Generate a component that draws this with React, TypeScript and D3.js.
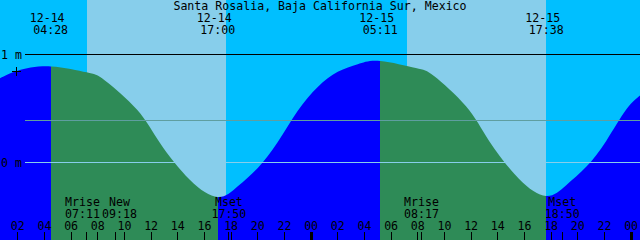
import React from "react";
import * as d3 from "d3";

const TITLE = "Santa Rosalia, Baja California Sur, Mexico";

// window of the graph
const WINDOW_START = "12-14 00:40";
const WINDOW_HOURS = 48;

// tide height samples (metres)
const tideTimes = [
  "12-14 00:40", "12-14 02:00", "12-14 04:28", "12-14 07:10", "12-14 08:32",
  "12-14 10:56", "12-14 12:40", "12-14 14:54", "12-14 17:00", "12-14 18:30",
  "12-14 20:00", "12-14 21:30", "12-14 23:00", "12-15 00:30", "12-15 02:00",
  "12-15 03:30", "12-15 05:11", "12-15 07:51", "12-15 09:13", "12-15 11:37",
  "12-15 13:21", "12-15 15:35", "12-15 17:38", "12-15 19:08", "12-15 20:38",
  "12-15 22:08", "12-15 23:38", "12-16 00:40", "12-16 01:08",
];
const tideHeights = [
  0.78, 0.85, 0.89, 0.835, 0.76,
  0.49, 0.18, -0.16, -0.32, -0.22,
  -0.05, 0.19, 0.48, 0.7, 0.84,
  0.91, 0.94, 0.875, 0.8, 0.52,
  0.2, -0.15, -0.31, -0.21, -0.04,
  0.2, 0.49, 0.62, 0.68,
];

// high / low tide events
const extremeTimes = ["12-14 04:28", "12-14 17:00", "12-15 05:11", "12-15 17:38"];
const extremeKinds = ["high", "low", "high", "low"];

// sun
const sunriseTimes = ["12-14 07:10", "12-15 07:10"];
const sunsetTimes = ["12-14 17:36", "12-15 17:36"];

// moon events
const moonNames = ["Mrise", "New", "Mset", "Mrise", "Mset"];
const moonTimes = ["12-14 07:11", "12-14 09:18", "12-14 17:50", "12-15 08:17", "12-15 18:50"];

// depth lines
const depthLevels = [1, 0];
const depthLabels = ["1 m", "0 m"];
const MEAN_LEVEL = 0.39;

const hourTicks = d3.range(2, 49, 2);

const W = 640;
const H = 240;
const FONT = "'DejaVu Sans Mono', 'Liberation Mono', monospace";
const FS = 11.6;

const NIGHT = "#00BFFF";
const DAY = "#87CEEB";
const FLOOD = "#0000FF";
const EBB = "#2E8B57";

function hoursOf(s: string): number {
  const [md, hm] = s.split(" ");
  const day = +md.split("-")[1];
  const [h, m] = hm.split(":").map(Number);
  return (day - 14) * 24 + h + m / 60;
}

function hhmm(s: string) {
  return s.split(" ")[1];
}
function mmdd(s: string) {
  return s.split(" ")[0];
}

export default function App() {
  const t0 = hoursOf(WINDOW_START);
  const x = d3.scaleLinear().domain([t0, t0 + WINDOW_HOURS]).range([0, W]);
  const y = d3.scaleLinear().domain([0, 1]).range([162.5, 54.5]);
  const px = (v: number) => Math.floor(v) + 0.5;

  const samples = tideTimes.map((t, i) => ({ t: hoursOf(t), h: tideHeights[i] }));
  const area = d3
    .area<{ t: number; h: number }>()
    .x((d) => x(d.t))
    .y0(H)
    .y1((d) => y(d.h))
    .curve(d3.curveNatural);
  const areaPath = area(samples) || "";

  // segments between extremes: rising = flood, falling = ebb
  const bounds = [t0, ...extremeTimes.map(hoursOf), hoursOf(tideTimes[tideTimes.length - 1])];
  const lastKind = extremeKinds[extremeKinds.length - 1];
  const segments = bounds.slice(0, -1).map((b, i) => {
    const next = bounds[i + 1];
    const endKind = i < extremeKinds.length ? extremeKinds[i] : lastKind === "high" ? "low" : "high";
    return { x0: Math.round(x(b)), x1: Math.round(x(next)), color: endKind === "high" ? FLOOD : EBB };
  });

  // daylight bands
  const days = sunriseTimes.map((s, i) => ({
    x0: Math.round(x(hoursOf(s))),
    x1: Math.round(x(hoursOf(sunsetTimes[i]))),
  }));

  // moon labels with overlap push
  const moon = moonTimes.map((t, i) => ({ name: moonNames[i], time: hhmm(t), x: x(hoursOf(t)), lx: x(hoursOf(t)) }));
  const minGap = 37;
  for (let i = 1; i < moon.length; i++) {
    const d = moon[i].lx - moon[i - 1].lx;
    if (d < minGap) {
      const push = (minGap - d) / 2;
      moon[i - 1].lx -= push;
      moon[i].lx += push;
    }
  }

  return (
    <svg
      width={W}
      height={H}
      style={{ position: "fixed", left: 0, top: 0, display: "block" }}
      fontFamily={FONT}
      fontSize={FS}
    >
      <defs>
        {segments.map((s, i) => (
          <clipPath id={`seg${i}`} key={i}>
            <rect x={s.x0} y={0} width={s.x1 - s.x0} height={H} />
          </clipPath>
        ))}
      </defs>
      <rect x={0} y={0} width={W} height={H} fill={NIGHT} />
      {days.map((d, i) => (
        <rect key={i} x={d.x0} y={0} width={d.x1 - d.x0} height={H} fill={DAY} />
      ))}
      {segments.map((s, i) => (
        <path key={i} d={areaPath} fill={s.color} clipPath={`url(#seg${i})`} />
      ))}

      {/* mean level and datum lines */}
      <g shapeRendering="crispEdges">
        <line x1={25} x2={W} y1={px(y(MEAN_LEVEL))} y2={px(y(MEAN_LEVEL))} stroke="#5F9EA0" strokeWidth={1} />
        <line x1={25} x2={W} y1={px(y(0))} y2={px(y(0))} stroke="#87CEEB" strokeWidth={1} />
        <line x1={25} x2={W} y1={px(y(1))} y2={px(y(1))} stroke="#000" strokeWidth={1} />
      </g>
      {depthLevels.map((lv, i) => (
        <text key={i} x={1} y={y(lv) + 4} fill="#000">
          {depthLabels[i]}
        </text>
      ))}
      <path d="M12,71.5H21M16.5,67V76" stroke="#000" strokeWidth={1} fill="none" shapeRendering="crispEdges" />

      {/* title */}
      <text x={W / 2} y={10} textAnchor="middle" fill="#000">
        {TITLE}
      </text>

      {/* tide labels */}
      {extremeTimes.map((t, i) => {
        const cx = x(hoursOf(t));
        return (
          <g key={i} fill="#000" textAnchor="middle">
            <text x={cx - 3.5} y={22}>{mmdd(t)}</text>
            <text x={cx} y={34}>{hhmm(t)}</text>
          </g>
        );
      })}

      {/* hour ticks */}
      {hourTicks.map((h) => {
        const tx = x(h);
        const midnight = h % 24 === 0;
        return (
          <g key={h} shapeRendering="crispEdges">
            <text x={tx} y={230} textAnchor="middle" fill="#000">
              {d3.format("02d")(h % 24)}
            </text>
            {midnight ? (
              <rect x={Math.floor(tx) - 1} y={232} width={3} height={8} fill="#000" />
            ) : (
              <line x1={px(tx)} x2={px(tx)} y1={232} y2={H} stroke="#000" strokeWidth={1} />
            )}
          </g>
        );
      })}

      {/* moon events */}
      {moon.map((m, i) => (
        <g key={i} fill="#000">
          <line x1={px(m.x)} x2={px(m.x)} y1={232} y2={H} stroke="#000" strokeWidth={1} shapeRendering="crispEdges" />
          <text x={m.lx} y={206} textAnchor="middle">{m.name}</text>
          <text x={m.lx} y={218} textAnchor="middle">{m.time}</text>
        </g>
      ))}
    </svg>
  );
}
